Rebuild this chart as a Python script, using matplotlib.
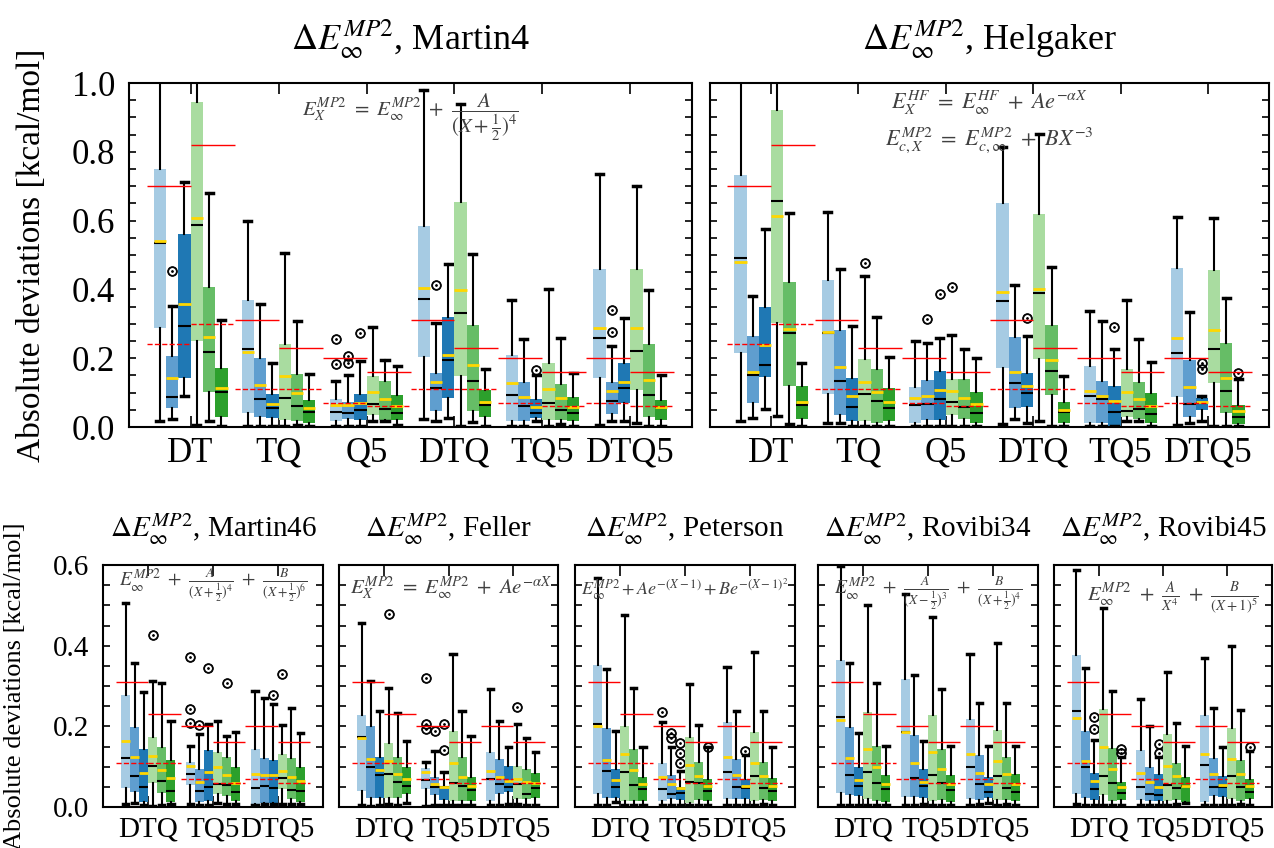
import numpy as np
import matplotlib
matplotlib.use("Agg")
import matplotlib.pyplot as plt
from matplotlib.ticker import MultipleLocator

plt.rcParams['font.family'] = ['Liberation Serif', 'DejaVu Serif']
plt.rcParams['mathtext.fontset'] = 'stix'

# each row: whislo, q1, median, mean, q3, whishi  (6 boxes per group)
top_groups = ["DT", "TQ", "Q5", "DTQ", "TQ5", "DTQ5"]
bottom_groups = ["DTQ", "TQ5", "DTQ5"]

martin4 = [
    # DT
    [0.016, 0.287, 0.534, 0.542, 0.749, 1.10], [0.022, 0.054, 0.086, 0.141, 0.206, 0.353],
    [0.090, 0.141, 0.295, 0.357, 0.561, 0.711], [0.005, 0.250, 0.586, 0.609, 0.946, 1.10],
    [0.017, 0.103, 0.219, 0.263, 0.406, 0.681], [0.003, 0.030, 0.103, 0.114, 0.171, 0.311],
    # TQ
    [0.003, 0.042, 0.227, 0.218, 0.369, 0.600], [0.003, 0.030, 0.081, 0.122, 0.200, 0.358],
    [0.003, 0.025, 0.054, 0.067, 0.096, 0.187], [0.003, 0.020, 0.085, 0.148, 0.240, 0.505],
    [0.006, 0.016, 0.062, 0.100, 0.154, 0.308], [0.003, 0.013, 0.045, 0.056, 0.078, 0.153],
    # Q5
    [0.003, 0.018, 0.045, 0.064, 0.080, 0.134], [0.003, 0.022, 0.042, 0.064, 0.074, 0.151],
    [0.003, 0.020, 0.049, 0.069, 0.096, 0.192], [0.016, 0.035, 0.067, 0.101, 0.148, 0.290],
    [0.016, 0.020, 0.051, 0.080, 0.135, 0.195], [0.006, 0.020, 0.042, 0.061, 0.093, 0.177],
    # DTQ
    [0.022, 0.203, 0.371, 0.403, 0.585, 0.980], [0.018, 0.047, 0.114, 0.130, 0.156, 0.303],
    [0.025, 0.083, 0.195, 0.208, 0.319, 0.474], [0.003, 0.148, 0.332, 0.398, 0.655, 0.938],
    [0.014, 0.047, 0.134, 0.181, 0.297, 0.503], [0.003, 0.030, 0.064, 0.072, 0.108, 0.168],
    # TQ5
    [0.003, 0.016, 0.093, 0.127, 0.209, 0.369], [0.003, 0.018, 0.061, 0.086, 0.132, 0.255],
    [0.016, 0.025, 0.040, 0.059, 0.080, 0.150], [0.003, 0.020, 0.071, 0.110, 0.185, 0.400],
    [0.010, 0.020, 0.049, 0.083, 0.125, 0.258], [0.003, 0.016, 0.042, 0.059, 0.086, 0.156],
    # DTQ5
    [0.006, 0.141, 0.260, 0.289, 0.458, 0.735], [0.016, 0.038, 0.076, 0.106, 0.132, 0.235],
    [0.016, 0.071, 0.112, 0.132, 0.185, 0.316], [0.013, 0.108, 0.222, 0.289, 0.458, 0.701],
    [0.003, 0.030, 0.093, 0.137, 0.240, 0.398], [0.003, 0.020, 0.057, 0.057, 0.078, 0.151],
]
martin4_fliers = {1: [0.453], 12: [0.255, 0.182], 13: [0.206, 0.185], 14: [0.274],
                  19: [0.413], 26: [0.165], 31: [0.340, 0.277]}

helgaker = [
    # DT
    [0.016, 0.214, 0.490, 0.479, 0.733, 1.10], [0.025, 0.069, 0.151, 0.159, 0.265, 0.381],
    [0.051, 0.144, 0.181, 0.239, 0.348, 0.575], [0.032, 0.301, 0.657, 0.614, 0.922, 1.10],
    [0.009, 0.119, 0.274, 0.285, 0.421, 0.623], [0.003, 0.022, 0.064, 0.074, 0.119, 0.185],
    # TQ
    [0.013, 0.096, 0.272, 0.277, 0.427, 0.626], [0.011, 0.035, 0.134, 0.175, 0.282, 0.459],
    [0.003, 0.018, 0.057, 0.090, 0.141, 0.294], [0.003, 0.016, 0.096, 0.132, 0.197, 0.439],
    [0.003, 0.011, 0.077, 0.101, 0.168, 0.321], [0.003, 0.016, 0.054, 0.074, 0.112, 0.204],
    # Q5
    [0.003, 0.011, 0.064, 0.083, 0.115, 0.250], [0.003, 0.020, 0.066, 0.090, 0.137, 0.245],
    [0.003, 0.020, 0.080, 0.108, 0.164, 0.260], [0.003, 0.035, 0.074, 0.106, 0.139, 0.266],
    [0.003, 0.022, 0.057, 0.085, 0.139, 0.227], [0.003, 0.011, 0.042, 0.067, 0.101, 0.200],
    # DTQ
    [0.009, 0.171, 0.367, 0.391, 0.652, 0.813], [0.022, 0.054, 0.127, 0.161, 0.263, 0.413],
    [0.012, 0.057, 0.100, 0.119, 0.156, 0.265], [0.018, 0.197, 0.389, 0.400, 0.619, 0.852],
    [0.003, 0.093, 0.163, 0.195, 0.297, 0.466], [0.003, 0.011, 0.043, 0.049, 0.072, 0.149],
    # TQ5
    [0.003, 0.013, 0.091, 0.106, 0.177, 0.337], [0.003, 0.011, 0.081, 0.091, 0.134, 0.309],
    [0.003, 0.003, 0.045, 0.076, 0.119, 0.227], [0.018, 0.028, 0.047, 0.103, 0.169, 0.369],
    [0.016, 0.022, 0.052, 0.081, 0.130, 0.256], [0.003, 0.011, 0.037, 0.062, 0.100, 0.190],
    # DTQ5
    [0.006, 0.086, 0.216, 0.260, 0.461, 0.611], [0.011, 0.028, 0.066, 0.117, 0.195, 0.333],
    [0.018, 0.049, 0.069, 0.072, 0.083, 0.090], [0.003, 0.129, 0.226, 0.282, 0.456, 0.609],
    [0.003, 0.040, 0.106, 0.143, 0.245, 0.374], [0.003, 0.009, 0.030, 0.047, 0.064, 0.140],
]
helgaker_fliers = {9: [0.478], 13: [0.313], 14: [0.387], 15: [0.406], 20: [0.316],
                   26: [0.292], 32: [0.185, 0.168], 35: [0.156]}

martin46 = [
    [0.007, 0.046, 0.121, 0.164, 0.278, 0.507], [0.009, 0.036, 0.077, 0.123, 0.198, 0.356],
    [0.005, 0.013, 0.050, 0.085, 0.145, 0.286], [0.003, 0.059, 0.102, 0.126, 0.173, 0.312],
    [0.005, 0.034, 0.064, 0.092, 0.150, 0.308], [0.007, 0.013, 0.040, 0.071, 0.117, 0.212],
    [0.007, 0.055, 0.082, 0.102, 0.112, 0.151], [0.005, 0.013, 0.040, 0.063, 0.093, 0.180],
    [0.005, 0.016, 0.050, 0.088, 0.141, 0.206], [0.009, 0.032, 0.056, 0.100, 0.136, 0.214],
    [0.007, 0.028, 0.054, 0.079, 0.125, 0.176], [0.007, 0.015, 0.036, 0.060, 0.098, 0.187],
    [0.005, 0.007, 0.048, 0.083, 0.145, 0.288], [0.007, 0.009, 0.052, 0.079, 0.121, 0.271],
    [0.007, 0.009, 0.046, 0.079, 0.117, 0.255], [0.007, 0.044, 0.071, 0.090, 0.131, 0.203],
    [0.007, 0.021, 0.042, 0.074, 0.121, 0.245], [0.007, 0.013, 0.040, 0.064, 0.098, 0.183],
]
martin46_fliers = {3: [0.426], 6: [0.371, 0.242, 0.209], 7: [0.203], 8: [0.345],
                   10: [0.307], 14: [0.278], 15: [0.330]}

feller = [
    [0.005, 0.040, 0.174, 0.170, 0.228, 0.455], [0.003, 0.023, 0.098, 0.118, 0.202, 0.313],
    [0.005, 0.023, 0.079, 0.092, 0.123, 0.239], [0.007, 0.023, 0.082, 0.114, 0.158, 0.294],
    [0.005, 0.023, 0.061, 0.081, 0.123, 0.232], [0.011, 0.032, 0.053, 0.069, 0.098, 0.164],
    [0.003, 0.044, 0.067, 0.088, 0.096, 0.112], [0.005, 0.030, 0.050, 0.057, 0.074, 0.139],
    [0.005, 0.017, 0.049, 0.050, 0.052, 0.088], [0.005, 0.015, 0.059, 0.108, 0.189, 0.379],
    [0.005, 0.015, 0.053, 0.075, 0.123, 0.239], [0.005, 0.016, 0.042, 0.052, 0.075, 0.177],
    [0.005, 0.016, 0.069, 0.090, 0.137, 0.293], [0.005, 0.031, 0.057, 0.075, 0.118, 0.213],
    [0.007, 0.036, 0.049, 0.065, 0.102, 0.148], [0.007, 0.020, 0.056, 0.069, 0.102, 0.206],
    [0.005, 0.020, 0.031, 0.061, 0.093, 0.172], [0.005, 0.023, 0.046, 0.059, 0.085, 0.136],
]
feller_fliers = {3: [0.479], 6: [0.321, 0.206, 0.193], 7: [0.189], 8: [0.206, 0.141], 15: [0.249]}

peterson = [
    [0.005, 0.031, 0.207, 0.202, 0.352, 0.567], [0.005, 0.023, 0.090, 0.117, 0.195, 0.342],
    [0.013, 0.023, 0.050, 0.067, 0.094, 0.189], [0.005, 0.015, 0.086, 0.131, 0.201, 0.476],
    [0.005, 0.016, 0.055, 0.092, 0.145, 0.294], [0.005, 0.015, 0.045, 0.056, 0.074, 0.150],
    [0.005, 0.015, 0.044, 0.075, 0.108, 0.210], [0.005, 0.020, 0.032, 0.057, 0.079, 0.150],
    [0.005, 0.017, 0.034, 0.046, 0.050, 0.090], [0.005, 0.009, 0.063, 0.104, 0.173, 0.305],
    [0.005, 0.017, 0.059, 0.077, 0.111, 0.203], [0.005, 0.016, 0.040, 0.052, 0.069, 0.148],
    [0.005, 0.019, 0.088, 0.123, 0.210, 0.348], [0.005, 0.019, 0.049, 0.079, 0.119, 0.239],
    [0.005, 0.020, 0.046, 0.053, 0.069, 0.129], [0.005, 0.015, 0.077, 0.110, 0.185, 0.385],
    [0.007, 0.017, 0.046, 0.078, 0.112, 0.239], [0.005, 0.015, 0.040, 0.053, 0.073, 0.150],
]
peterson_fliers = {6: [0.235], 7: [0.184, 0.170], 8: [0.158, 0.133, 0.108], 11: [0.150], 14: [0.140]}

rovibi34 = [
    [0.005, 0.034, 0.222, 0.216, 0.364, 0.598], [0.005, 0.030, 0.079, 0.121, 0.199, 0.356],
    [0.005, 0.027, 0.052, 0.067, 0.098, 0.184], [0.005, 0.020, 0.088, 0.145, 0.235, 0.502],
    [0.005, 0.015, 0.060, 0.098, 0.152, 0.307], [0.005, 0.013, 0.044, 0.057, 0.079, 0.152],
    [0.005, 0.024, 0.185, 0.187, 0.317, 0.527], [0.005, 0.024, 0.071, 0.108, 0.179, 0.327],
    [0.007, 0.023, 0.052, 0.063, 0.093, 0.164], [0.005, 0.016, 0.079, 0.136, 0.228, 0.472],
    [0.005, 0.017, 0.060, 0.093, 0.145, 0.292], [0.005, 0.013, 0.042, 0.056, 0.079, 0.152],
    [0.005, 0.019, 0.098, 0.131, 0.218, 0.379], [0.007, 0.017, 0.057, 0.085, 0.129, 0.257],
    [0.011, 0.023, 0.038, 0.057, 0.074, 0.151], [0.005, 0.017, 0.078, 0.115, 0.191, 0.407],
    [0.007, 0.017, 0.046, 0.082, 0.125, 0.257], [0.005, 0.015, 0.036, 0.056, 0.082, 0.152],
]
rovibi34_fliers = {}

rovibi45 = [
    [0.007, 0.031, 0.238, 0.220, 0.377, 0.588], [0.005, 0.023, 0.098, 0.114, 0.188, 0.344],
    [0.005, 0.017, 0.044, 0.065, 0.085, 0.166], [0.005, 0.030, 0.077, 0.150, 0.242, 0.493],
    [0.005, 0.015, 0.059, 0.094, 0.147, 0.288], [0.005, 0.017, 0.034, 0.050, 0.061, 0.123],
    [0.005, 0.017, 0.049, 0.085, 0.141, 0.268], [0.005, 0.015, 0.032, 0.063, 0.100, 0.202],
    [0.005, 0.015, 0.030, 0.049, 0.081, 0.123], [0.005, 0.015, 0.055, 0.102, 0.181, 0.334],
    [0.007, 0.017, 0.046, 0.077, 0.110, 0.209], [0.009, 0.013, 0.053, 0.053, 0.075, 0.151],
    [0.005, 0.013, 0.104, 0.131, 0.228, 0.369], [0.005, 0.027, 0.049, 0.081, 0.122, 0.245],
    [0.005, 0.026, 0.049, 0.055, 0.078, 0.150], [0.005, 0.020, 0.077, 0.118, 0.195, 0.400],
    [0.007, 0.015, 0.049, 0.081, 0.117, 0.240], [0.005, 0.020, 0.038, 0.052, 0.069, 0.140],
]
rovibi45_fliers = {2: [0.224, 0.193], 5: [0.145, 0.133], 8: [0.156, 0.135], 17: [0.148]}

# reference lines per group (DT, TQ, Q5, DTQ, TQ5, DTQ5)
ref_solid_blue = [0.70, 0.31, 0.20, 0.31, 0.20, 0.20]
ref_solid_green = [0.82, 0.23, 0.16, 0.23, 0.16, 0.16]
ref_dash_blue = [0.24, 0.11, 0.07, 0.11, 0.07, 0.07]
ref_dash_green = [0.30, 0.11, 0.06, 0.11, 0.06, 0.06]

colors = ['#a6cbe3', '#5f9ecf', '#1f78b4', '#a9dca0', '#66bd66', '#2ca02c']
offsets = (np.arange(6) - 2.5) * 0.14


def draw_panel(ax, rows, fliers, groups, refs, ymax, fs):
    stats, positions = [], []
    for i, r in enumerate(rows):
        g, b = divmod(i, 6)
        stats.append(dict(whislo=r[0], q1=r[1], med=r[2], mean=r[3], q3=r[4],
                          whishi=r[5], fliers=fliers.get(i, [])))
        positions.append(g + 1 + offsets[b])
    bp = ax.bxp(stats, positions=positions, widths=0.14, patch_artist=True,
                showmeans=True, meanline=True, manage_ticks=False, capwidths=0.08,
                boxprops=dict(linewidth=0, edgecolor='none'),
                medianprops=dict(color='black', lw=1.5),
                meanprops=dict(color='gold', ls='-', lw=2),
                whiskerprops=dict(color='black', lw=1.5),
                capprops=dict(color='black', lw=2.5),
                flierprops=dict(marker=r'$\odot$', mfc='black', mec='black', ms=7, mew=0.6))
    for i, patch in enumerate(bp['boxes']):
        patch.set_facecolor(colors[i % 6])

    sb, sg, db, dg = refs
    x = np.arange(1, len(groups) + 1)
    ax.hlines(sb, x - 0.5, x, colors='red', lw=1, zorder=5)
    ax.hlines(sg, x, x + 0.5, colors='red', lw=1, zorder=5)
    ax.hlines(db, x - 0.5, x, colors='red', lw=1, linestyles='--', zorder=5)
    ax.hlines(dg, x, x + 0.5, colors='red', lw=1, linestyles='--', zorder=5)

    ax.set_xlim(0.3, len(groups) + 0.7)
    ax.set_ylim(0, ymax)
    ax.set_xticks(x)
    ax.set_xticklabels(groups)
    ax.yaxis.set_major_locator(MultipleLocator(0.2))
    ax.yaxis.set_minor_locator(MultipleLocator(0.05))
    ax.tick_params(axis='both', which='both', direction='in', top=True, right=True,
                   labelsize=fs)
    ax.tick_params(axis='x', length=8, width=1.2, pad=7)
    ax.tick_params(axis='y', which='both', length=5, width=1.2, pad=10)
    for s in ax.spines.values():
        s.set_linewidth(1.5)


fig = plt.figure(figsize=(12.74, 8.48), dpi=100)
W, H = 1274, 848


def axes_px(x0, x1, ytop, ybot):
    return fig.add_axes([x0 / W, (H - ybot) / H, (x1 - x0) / W, (ybot - ytop) / H])


refs_top = (ref_solid_blue, ref_solid_green, ref_dash_blue, ref_dash_green)
refs_bot = tuple(r[3:] for r in refs_top)

ylabel = 'Absolute deviations [kcal/mol]'
title_fmt = r'$\Delta E_{\infty}^{MP2}$, '
fcol = '0.25'

# top row
ax1 = axes_px(129, 692, 83, 427)
draw_panel(ax1, martin4, martin4_fliers, top_groups, refs_top, 1.0, 25)
ax1.set_title(title_fmt + 'Martin4', fontsize=26, pad=24)
ax1.set_ylabel(ylabel, fontsize=24)
ax1.yaxis.set_label_coords(-0.145, 0.5)
ax1.text(0.5, 0.9, r'$E_X^{MP2}\ =\ E_\infty^{MP2}\ +\ \dfrac{A}{(X+\frac{1}{2})^4}$',
         transform=ax1.transAxes, ha='center', va='center', fontsize=15, color=fcol)

ax2 = axes_px(710, 1269, 83, 427)
draw_panel(ax2, helgaker, helgaker_fliers, top_groups, refs_top, 1.0, 25)
ax2.set_yticklabels([])
ax2.set_title(title_fmt + 'Helgaker', fontsize=26, pad=24)
ax2.text(0.5, 0.942, r'$E_X^{HF}\ =\ E_\infty^{HF}\ +\ Ae^{-\alpha X}$',
         transform=ax2.transAxes, ha='center', va='center', fontsize=16, color=fcol)
ax2.text(0.5, 0.834, r'$E_{c,X}^{MP2}\ =\ E_{c,\infty}^{MP2}\ +\ BX^{-3}$',
         transform=ax2.transAxes, ha='center', va='center', fontsize=16, color=fcol)

# bottom row
bottom = [
    ('Martin46', martin46, martin46_fliers, (103, 323),
     r'$E_\infty^{MP2}\ +\ \frac{A}{(X+\frac{1}{2})^4}\ +\ \frac{B}{(X+\frac{1}{2})^6}$', 0.50, 0.915, 14),
    ('Feller', feller, feller_fliers, (339, 558),
     r'$E_X^{MP2}\ =\ E_\infty^{MP2}\ +\ Ae^{-\alpha X}$', 0.51, 0.905, 15),
    ('Peterson', peterson, peterson_fliers, (575, 795),
     r'$E_\infty^{MP2} + Ae^{-(X-1)} + Be^{-(X-1)^2}$', 0.50, 0.90, 13),
    ('Rovibi34', rovibi34, rovibi34_fliers, (818, 1038),
     r'$E_\infty^{MP2}\ +\ \frac{A}{(X-\frac{1}{2})^3}\ +\ \frac{B}{(X+\frac{1}{2})^4}$', 0.50, 0.885, 14),
    ('Rovibi45', rovibi45, rovibi45_fliers, (1054, 1272),
     r'$E_\infty^{MP2}\ +\ \frac{A}{X^4}\ +\ \frac{B}{(X+1)^5}$', 0.545, 0.865, 15),
]
for k, (name, rows, fl, (x0, x1), formula, fx, fy, ffs) in enumerate(bottom):
    ax = axes_px(x0, x1, 565, 807)
    draw_panel(ax, rows, fl, bottom_groups, refs_bot, 0.6, 21)
    ax.set_title(title_fmt + name, fontsize=21, pad=20)
    ax.text(fx, fy, formula, transform=ax.transAxes, ha='center', va='center',
            fontsize=ffs, color=fcol)
    if k == 0:
        ax.set_ylabel(ylabel, fontsize=19)
        ax.yaxis.set_label_coords(-0.35, 0.5)
    else:
        ax.set_yticklabels([])

fig.savefig('out.png', dpi=100)
